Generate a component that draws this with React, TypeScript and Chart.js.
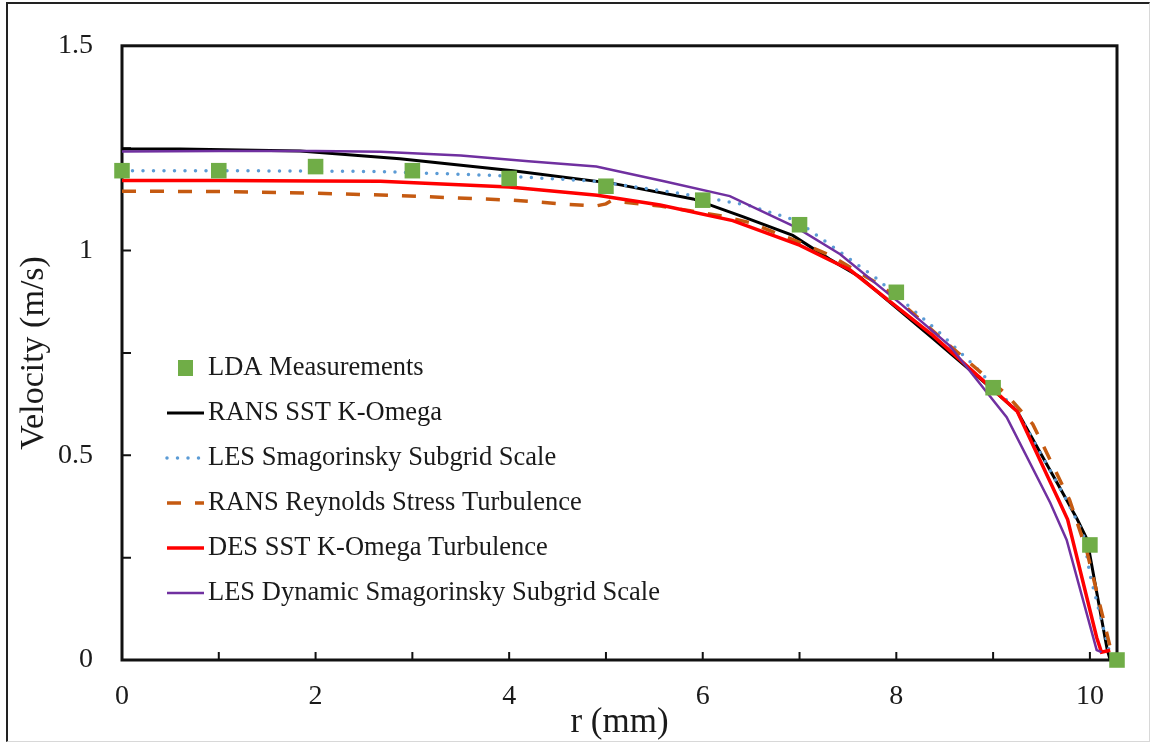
import { useEffect, useRef } from "react";
import { Chart, registerables } from "chart.js";

Chart.register(...registerables);

// Radial velocity profiles: r in mm, velocity in m/s
const ldaR = [0, 1, 2, 3, 4, 5, 6, 7, 8, 9, 10, 10.28];
const ldaV = [1.195, 1.195, 1.205, 1.195, 1.176, 1.157, 1.123, 1.063, 0.898, 0.665, 0.281, 0];

const ransSstR = [0, 0.6, 1.84, 2.87, 4.04, 5.07, 5.9, 6.42, 6.93, 7.31, 7.62, 8.38, 8.94, 9.25, 9.76, 9.87, 9.97, 10.18, 10.21];
const ransSstV = [1.248, 1.248, 1.243, 1.224, 1.195, 1.164, 1.126, 1.082, 1.037, 0.979, 0.936, 0.785, 0.672, 0.607, 0.391, 0.343, 0.295, 0.024, 0];

const lesSmagR = [0, 1, 2, 2.67, 3.87, 4.91, 5.76, 6.46, 6.97, 7.31, 7.8, 8.45, 8.83, 9.25, 9.76, 9.93, 10.0, 10.21];
const lesSmagV = [1.195, 1.195, 1.194, 1.193, 1.183, 1.169, 1.14, 1.111, 1.073, 1.015, 0.931, 0.799, 0.713, 0.607, 0.39, 0.31, 0.209, 0.012];

const ransRsmR = [0, 1, 2, 2.77, 4.04, 4.6, 4.9, 5.0, 5.05, 5.56, 5.87, 6.18, 6.49, 7.0, 7.31, 7.86, 8.55, 9.14, 9.41, 9.79, 9.97, 10.21, 10.23];
const ransRsmV = [1.145, 1.144, 1.14, 1.135, 1.123, 1.113, 1.109, 1.114, 1.121, 1.109, 1.097, 1.085, 1.068, 1.02, 0.989, 0.912, 0.768, 0.648, 0.576, 0.391, 0.264, 0.031, 0];

const desSstR = [0, 1, 2, 2.67, 4, 4.91, 5.56, 6.31, 7.0, 7.31, 7.52, 8.38, 8.97, 9.25, 9.69, 9.77, 10.07, 10.12, 10.21];
const desSstV = [1.171, 1.171, 1.17, 1.169, 1.155, 1.135, 1.111, 1.073, 1.013, 0.977, 0.953, 0.792, 0.667, 0.607, 0.384, 0.343, 0.055, 0.019, 0.024];

const lesDynR = [0, 1, 2, 2.67, 3.5, 4.2, 4.9, 5.6, 6.28, 6.97, 7.42, 8.04, 8.55, 9.14, 9.59, 9.76, 10.07, 10.12];
const lesDynV = [1.242, 1.243, 1.243, 1.241, 1.232, 1.218, 1.205, 1.169, 1.133, 1.056, 0.991, 0.871, 0.768, 0.593, 0.384, 0.293, 0.024, 0.019];

const xTickLabels = [0, 2, 4, 6, 8, 10];
const yTickLabels = [0, 0.5, 1, 1.5];
const xTickMarks = [1, 2, 3, 4, 5, 6, 7, 8, 9, 10];
const yTickMarks = [0.25, 0.5, 0.75, 1, 1.25];

const SERIF = "'Liberation Serif', 'Times New Roman', serif";
const TEXT = "#1a1a1a";

const pts = (r: number[], v: number[]) => r.map((x, i) => ({ x, y: v[i] }));

// Plot frame with short inward tick marks
const frameAndTicks = {
  id: "frameAndTicks",
  beforeDatasetsDraw(chart: any) {
    const { ctx, chartArea: a, scales } = chart;
    ctx.save();
    ctx.strokeStyle = "#111";
    ctx.lineWidth = 3;
    ctx.strokeRect(a.left, a.top, a.right - a.left, a.bottom - a.top);
    ctx.lineWidth = 2;
    ctx.beginPath();
    for (const r of xTickMarks) {
      const px = scales.x.getPixelForValue(r);
      ctx.moveTo(px, a.bottom);
      ctx.lineTo(px, a.bottom - 8);
    }
    for (const v of yTickMarks) {
      const py = scales.y.getPixelForValue(v);
      ctx.moveTo(a.left, py);
      ctx.lineTo(a.left + 9, py);
    }
    ctx.stroke();
    ctx.restore();
  },
};

// Legend drawn inside the plot area, one row per dataset
const insetLegend = {
  id: "insetLegend",
  afterDraw(chart: any) {
    const { ctx } = chart;
    const x0 = 167;
    const x1 = 204;
    const textX = 208;
    const top = 368;
    const gap = 45;
    ctx.save();
    chart.data.datasets.forEach((ds: any, i: number) => {
      const y = top + i * gap;
      if (ds.showLine === false) {
        ctx.fillStyle = ds.backgroundColor;
        ctx.fillRect(178, y - 8, 15, 16);
      } else {
        ctx.beginPath();
        ctx.strokeStyle = ds.borderColor;
        ctx.lineWidth = ds.borderWidth;
        ctx.lineCap = ds.borderCapStyle || "butt";
        ctx.setLineDash(ds.borderDash || []);
        ctx.moveTo(x0, y);
        ctx.lineTo(x1, y);
        ctx.stroke();
        ctx.setLineDash([]);
      }
      ctx.fillStyle = TEXT;
      ctx.font = `26.5px ${SERIF}`;
      ctx.textAlign = "left";
      ctx.textBaseline = "middle";
      ctx.fillText(ds.label, textX, y);
    });
    ctx.restore();
  },
};

export default function App() {
  const canvasRef = useRef<HTMLCanvasElement | null>(null);

  useEffect(() => {
    if (!canvasRef.current) return;
    const lineBase = {
      showLine: true,
      pointRadius: 0,
      pointHoverRadius: 0,
      tension: 0,
      fill: false,
    };
    const chart = new Chart(canvasRef.current, {
      type: "scatter",
      data: {
        datasets: [
          {
            label: "LDA Measurements",
            data: pts(ldaR, ldaV),
            showLine: false,
            pointStyle: "rect",
            pointRadius: 11,
            pointHoverRadius: 11,
            backgroundColor: "#70AD47",
            borderColor: "#70AD47",
            borderWidth: 0,
            clip: false,
            order: 0,
          },
          {
            ...lineBase,
            label: "RANS SST K-Omega",
            data: pts(ransSstR, ransSstV),
            borderColor: "#000000",
            borderWidth: 3,
            order: 5,
          },
          {
            ...lineBase,
            label: "LES Smagorinsky Subgrid Scale",
            data: pts(lesSmagR, lesSmagV),
            borderColor: "#5B9BD5",
            borderWidth: 3.5,
            borderDash: [0, 10.5],
            borderCapStyle: "round",
            order: 4,
          },
          {
            ...lineBase,
            label: "RANS Reynolds Stress Turbulence",
            data: pts(ransRsmR, ransRsmV),
            borderColor: "#C55A11",
            borderWidth: 3.5,
            borderDash: [14, 14],
            order: 3,
          },
          {
            ...lineBase,
            label: "DES SST K-Omega Turbulence",
            data: pts(desSstR, desSstV),
            borderColor: "#FF0000",
            borderWidth: 3.5,
            order: 2,
          },
          {
            ...lineBase,
            label: "LES Dynamic Smagorinsky Subgrid Scale",
            data: pts(lesDynR, lesDynV),
            borderColor: "#7030A0",
            borderWidth: 2.5,
            order: 1,
          },
        ] as any,
      },
      options: {
        animation: false,
        responsive: true,
        maintainAspectRatio: false,
        layout: { padding: { top: 35, right: 36, left: 0, bottom: 0 } },
        plugins: {
          legend: { display: false },
          tooltip: { enabled: false },
        },
        scales: {
          x: {
            type: "linear",
            min: 0,
            max: 10.28,
            grid: { display: false, drawTicks: false },
            border: { display: false },
            afterBuildTicks: (scale: any) => {
              scale.ticks = xTickLabels.map((value) => ({ value }));
            },
            afterFit: (scale: any) => {
              scale.height = 84;
            },
            ticks: {
              padding: 20,
              color: TEXT,
              font: { family: SERIF, size: 28 },
              callback: (v: any) => String(v),
            },
            title: {
              display: true,
              text: "r (mm)",
              color: TEXT,
              font: { family: SERIF, size: 35 },
              padding: { top: 0, bottom: 0 },
            },
          },
          y: {
            type: "linear",
            min: 0,
            max: 1.5,
            grid: { display: false, drawTicks: false },
            border: { display: false },
            afterBuildTicks: (scale: any) => {
              scale.ticks = yTickLabels.map((value) => ({ value }));
            },
            afterFit: (scale: any) => {
              scale.width = 122;
            },
            ticks: {
              padding: 29,
              color: TEXT,
              font: { family: SERIF, size: 28 },
              callback: (v: any) => String(v),
            },
            title: {
              display: true,
              text: "Velocity (m/s)",
              color: TEXT,
              font: { family: SERIF, size: 34 },
              padding: { top: 14, bottom: 0 },
            },
          },
        },
      },
      plugins: [frameAndTicks, insetLegend],
    });
    return () => chart.destroy();
  }, []);

  return (
    <div
      style={{
        position: "absolute",
        left: 0,
        top: 0,
        width: 1153,
        height: 744,
        background: "#fff",
        overflow: "hidden",
      }}
    >
      <canvas ref={canvasRef} />
      <div
        style={{
          position: "absolute",
          left: 6,
          top: 2,
          width: 1141,
          height: 737,
          borderLeft: "2px solid #222",
          borderTop: "2px solid #222",
          borderRight: "1px solid #d8d8d8",
          borderBottom: "1px solid #d8d8d8",
          pointerEvents: "none",
        }}
      />
    </div>
  );
}
